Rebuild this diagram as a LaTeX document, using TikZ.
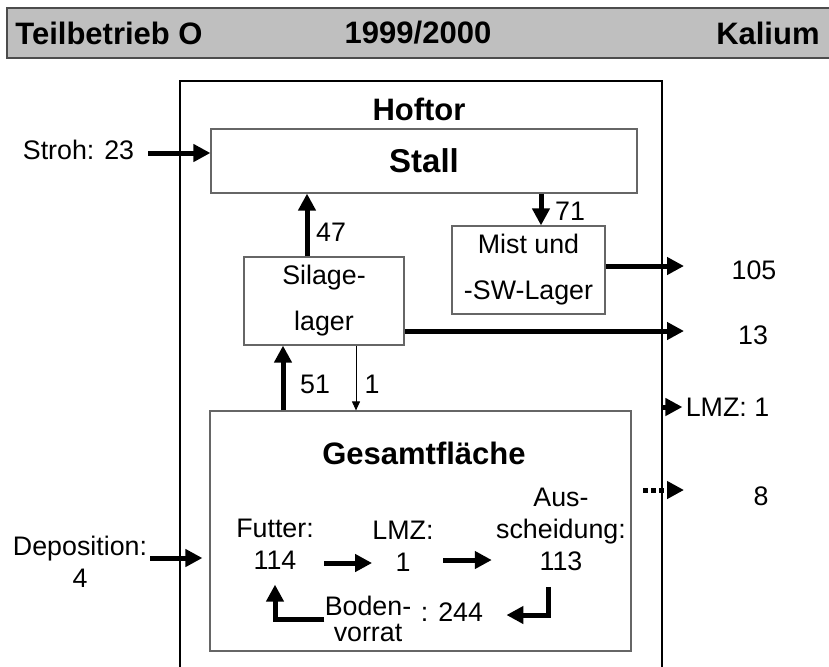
\documentclass[tikz,border=0pt]{standalone}
\usepackage{fontspec}
\setmainfont{Liberation Sans}
\usetikzlibrary{arrows.meta,positioning}
\definecolor{hdrgray}{rgb}{0.75,0.75,0.75}
\definecolor{hdrline}{rgb}{0.30,0.30,0.30}
\definecolor{boxline}{rgb}{0.40,0.40,0.40}

\begin{document}
\begin{tikzpicture}[x=0.5pt,y=-0.5pt,
      box/.style={draw=boxline,line width=0.6pt,align=center,
                  font=\fontsize{13.4}{23}\selectfont},
      txt/.style={font=\fontsize{13.4}{16}\selectfont,align=center,inner sep=0pt},
      ttl/.style={font=\fontsize{15.5}{18}\selectfont\bfseries,inner sep=0pt},
      arr/.style={-{Triangle[length=8.5pt,width=8.5pt]},line width=2.5pt},
      tarr/.style={-{Triangle[length=4.5pt,width=4pt]},line width=0.5pt},
      darr/.style={arr,dash pattern=on 2.5pt off 1.5pt}
    ]
      \clip (0,0) rectangle (829,666);
      % title bar
      \fill[hdrgray] (7,8) rectangle (835,58);
      \draw[hdrline,line width=1pt] (835,8) -- (7,8) -- (7,58) -- (835,58);
      \node[ttl,anchor=west] (betr) at (15,33) {Teilbetrieb O};
      \node[ttl] (jahr) at (418,33) {1999/2000};
      \node[ttl,anchor=east] (elem) at (820,33) {Kalium};

      % Hoftor and its boxes
      \node[draw,line width=1pt,anchor=north west,
            minimum width=241pt,minimum height=330pt] (hof) at (179,80) {};
      \node[ttl] (hoftxt) at (419,109) {Hoftor};
      \node[box,minimum width=213pt,minimum height=32pt,
            font=\fontsize{16.5}{18}\selectfont\bfseries] (stall) at (424,161) {Stall};
      \node[box,minimum width=80pt,minimum height=44pt] (silo) at (324,301) {Silage-\\lager};
      \node[box,minimum width=76.5pt,minimum height=44pt] (mist) at (528.5,270) {Mist und\\-SW-Lager};
      \node[box,minimum width=210.5pt,minimum height=120pt] (gesamt) at (420.5,531) {};
      \node[ttl] (gtxt) at (424,453) {Gesamtfläche};

      % inside Gesamtfläche
      \node[txt] (futter) at (275,544) {Futter:\\114};
      \node[txt] (lmzin) at (403,546) {LMZ:\\1};
      \node[txt] (aus) at (561,529) {Aus-\\scheidung:\\113};
      \node[txt,font=\fontsize{13.4}{13}\selectfont] (boden) at (368,619) {Boden-\\vorrat};
      \node[txt] (b244) at (452,612) {: 244};

      % outside
      \node[txt] (stroh) at (78.5,150) {Stroh: 23};
      \node[txt] (depo) at (80,562) {Deposition:\\4};
      \node[txt] (n105) at (754,270) {105};
      \node[txt] (n13) at (753,335) {13};
      \node[txt] (lmzo) at (727.5,407) {LMZ: 1};
      \node[txt] (n8) at (761,496) {8};
      \coordinate (outx) at (684,0);
      \coordinate (dotst) at (643,490);

      % flow numbers
      \node[txt] (l47) at (331,232) {47};
      \node[txt] (l71) at (570,211) {71};
      \node[txt] (l51) at (315,384) {51};
      \node[txt] (l1) at (372,384) {1};

      \draw[arr,shorten <=6.75pt] ([yshift=-1.5pt]stroh.east) -- ([yshift=-1.5pt]stroh.east -| stall.west);
      \draw[arr,shorten <=1.5pt,shorten >=3.5pt] ([yshift=2pt]depo.east) -- ([yshift=2pt]depo.east -| gesamt.west);
      \draw[arr] ([xshift=-8.5pt]silo.north) -- ([xshift=-8.5pt]silo.north |- stall.south);
      \draw[arr] ([xshift=6.25pt]mist.north |- stall.south) -- ([xshift=6.25pt]mist.north);
      \draw[arr] ([xshift=-20.5pt]silo.south |- gesamt.north) -- ([xshift=-20.5pt]silo.south);
      \draw[tarr] ([xshift=16pt]silo.south) -- ([xshift=16pt]silo.south |- gesamt.north);
      \draw[arr] ([yshift=2pt]mist.east) -- ([yshift=2pt]mist.east -| outx);
      \draw[arr] ([yshift=-15pt]silo.east) -- ([yshift=-15pt]silo.east -| outx);
      \draw[arr,shorten >=1.5pt] (lmzo.west -| hof.east) -- (lmzo.west);
      \draw[darr] (dotst) -- (dotst -| outx);

      \draw[arr,shorten <=5pt] ([yshift=-9.5pt]futter.east) -- ([yshift=-9.5pt]futter.east -| lmzin.west);
      \draw[arr,shorten <=4.75pt,shorten >=2pt] ([yshift=-7pt]lmzin.east) -- ([yshift=-7pt]lmzin.east -| aus.west);
      \draw[arr,shorten <=8pt,shorten >=11.5pt] ([xshift=-6.5pt]aus.south) |- ([yshift=-1.5pt]b244.east);
      \draw[arr,shorten >=7.5pt] (boden.west) -| (futter.south);
    \end{tikzpicture}
\end{document}
